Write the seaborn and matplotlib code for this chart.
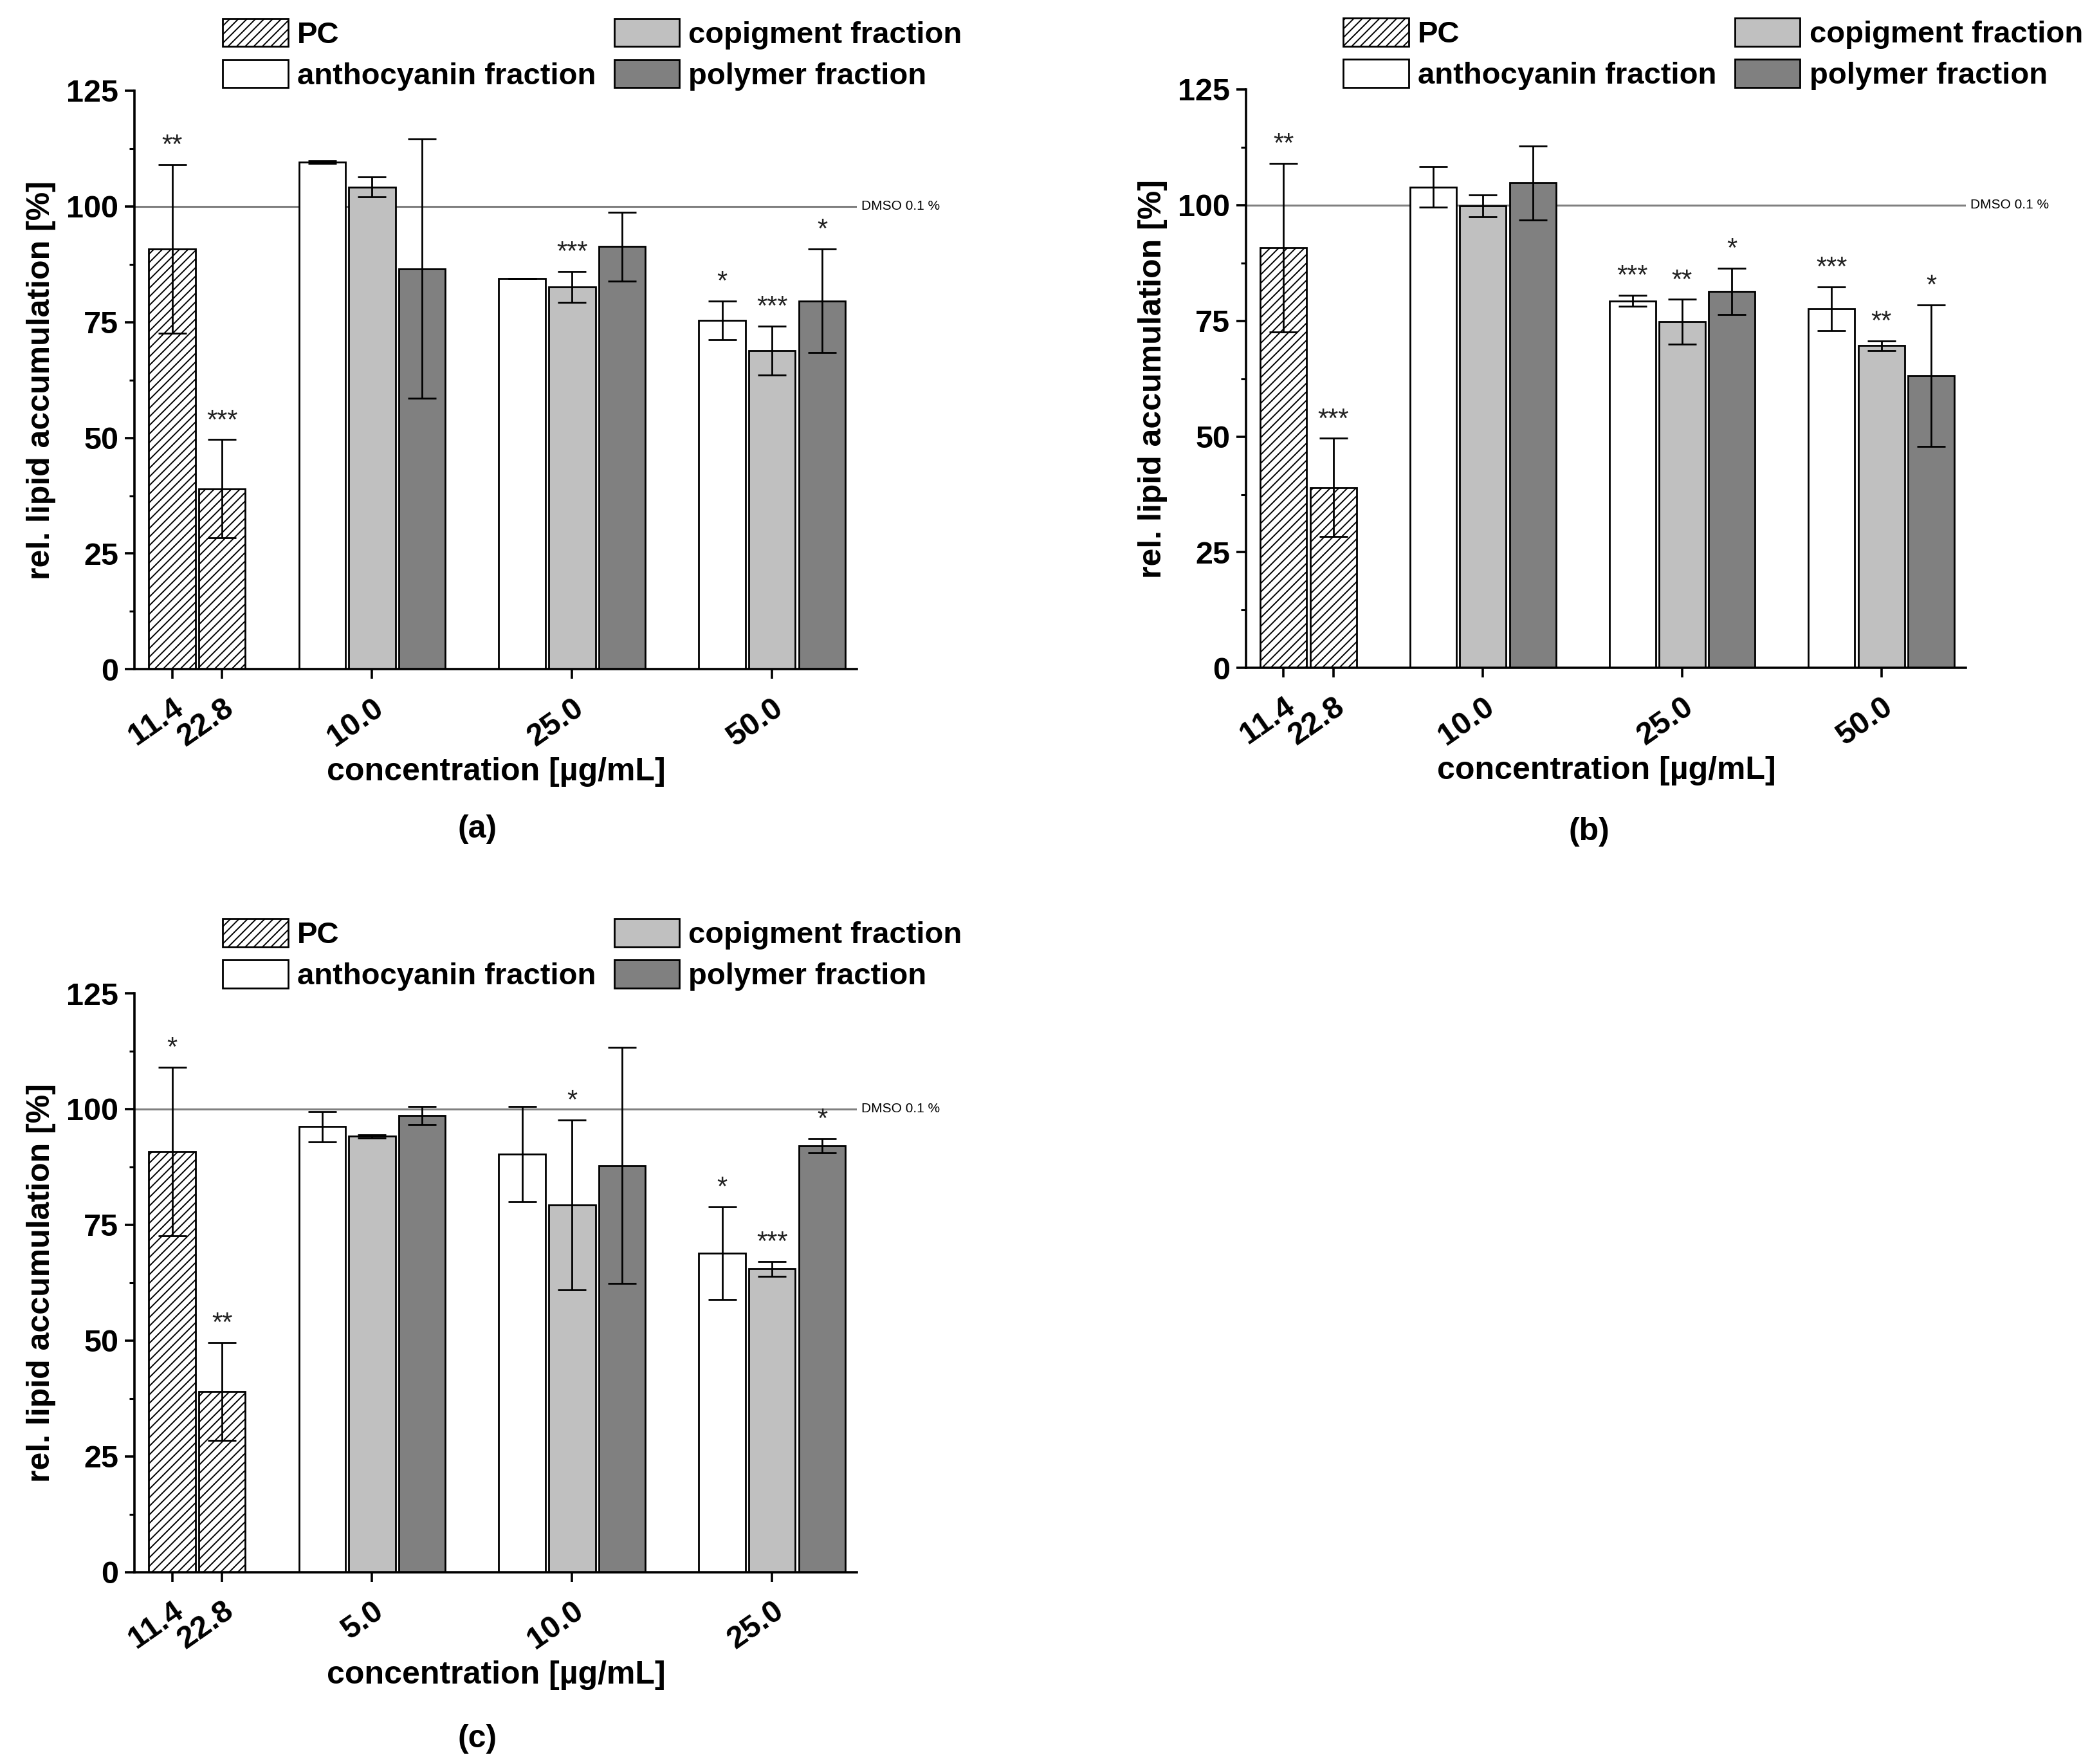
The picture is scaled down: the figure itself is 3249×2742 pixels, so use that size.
import numpy as np
import pandas as pd
import matplotlib
matplotlib.use("Agg")
import matplotlib.pyplot as plt
import matplotlib.transforms as mtransforms
from matplotlib.patches import Patch
from matplotlib.ticker import MultipleLocator
import seaborn as sns

# -------------------------
# DATA
# -------------------------
series = ["PC", "anthocyanin fraction", "copigment fraction", "polymer fraction"]

pc_labels = ["11.4", "22.8"]
pc_mean = [90.8, 39.0]
pc_err = [18.2, 10.6]
pc_stars_a = ["**", "***"]
pc_stars_b = ["**", "***"]
pc_stars_c = ["*", "**"]

# panel (a)
conc_a = ["10.0", "25.0", "50.0"]
anth_a = [109.6, 84.4, 75.4]
anth_err_a = [0.3, 0.0, 4.2]
anth_stars_a = ["", "", "*"]
cop_a = [104.2, 82.6, 68.8]
cop_err_a = [2.1, 3.3, 5.3]
cop_stars_a = ["", "***", "***"]
poly_a = [86.5, 91.3, 79.6]
poly_err_a = [28.0, 7.4, 11.2]
poly_stars_a = ["", "", "*"]

# panel (b)
conc_b = ["10.0", "25.0", "50.0"]
anth_b = [103.9, 79.3, 77.6]
anth_err_b = [4.4, 1.2, 4.7]
anth_stars_b = ["", "***", "***"]
cop_b = [99.8, 74.8, 69.6]
cop_err_b = [2.4, 4.8, 1.1]
cop_stars_b = ["", "**", "**"]
poly_b = [104.8, 81.4, 63.1]
poly_err_b = [8.0, 5.0, 15.3]
poly_stars_b = ["", "*", "*"]

# panel (c)
conc_c = ["5.0", "10.0", "25.0"]
anth_c = [96.2, 90.3, 68.9]
anth_err_c = [3.3, 10.3, 10.0]
anth_stars_c = ["", "", "*"]
cop_c = [94.1, 79.3, 65.5]
cop_err_c = [0.4, 18.4, 1.6]
cop_stars_c = ["", "*", "***"]
poly_c = [98.6, 87.8, 92.1]
poly_err_c = [2.0, 25.5, 1.5]
poly_stars_c = ["", "", "*"]

palette = {"PC": "white", "anthocyanin fraction": "white",
           "copigment fraction": "#c0c0c0", "polymer fraction": "#808080"}

# -------------------------
# STYLE
# -------------------------
sns.set_style("ticks")
plt.rcParams["font.family"] = ["Liberation Sans", "DejaVu Sans"]
plt.rcParams["font.weight"] = "bold"
plt.rcParams["axes.labelweight"] = "bold"
plt.rcParams["hatch.linewidth"] = 0.7
plt.rcParams["axes.linewidth"] = 1.3
for key in ["text.color", "axes.labelcolor", "xtick.color", "ytick.color",
            "axes.edgecolor"]:
    plt.rcParams[key] = "black"

fig = plt.figure(figsize=(16.245, 13.71), dpi=200)


def draw_panel(rect, conc, anth, anth_err, anth_st, cop, cop_err, cop_st,
               poly, poly_err, poly_st, pc_st, caption, leg_anchor, cap_xy):
    ax = fig.add_axes(rect)

    pos_pc = [0, 1]
    centers = [4, 8, 12]
    rows = []
    for p, m, e, s in zip(pos_pc, pc_mean, pc_err, pc_st):
        rows.append(("PC", p, m, e, s))
    for name, vals, errs, st, off in [
            ("anthocyanin fraction", anth, anth_err, anth_st, -1),
            ("copigment fraction", cop, cop_err, cop_st, 0),
            ("polymer fraction", poly, poly_err, poly_st, 1)]:
        for c, m, e, s in zip(centers, vals, errs, st):
            rows.append((name, c + off, m, e, s))
    df = pd.DataFrame(rows, columns=["series", "pos", "value", "err", "stars"])

    ax.axhline(100, color="#808080", lw=1.1, zorder=0.5)
    sns.barplot(data=df, x="pos", y="value", hue="series", hue_order=series,
                palette=palette, native_scale=True, dodge=False, width=0.93,
                edgecolor="black", linewidth=1.0, errorbar=None, legend=False,
                ax=ax)
    for patch in ax.patches:
        x0 = patch.get_x() + patch.get_width() / 2
        if x0 < 2:
            patch.set_hatch("/////")

    ax.errorbar(df["pos"], df["value"], yerr=df["err"], fmt="none",
                ecolor="black", elinewidth=1.0, capsize=8, capthick=1.0,
                zorder=3)
    for _, r in df.iterrows():
        if r["stars"]:
            ax.text(r["pos"], r["value"] + r["err"] + 4, r["stars"],
                    ha="center", va="center", fontsize=15,
                    fontweight="normal", color="#222222")

    trans = mtransforms.blended_transform_factory(ax.transAxes, ax.transData)
    ax.text(1.006, 100, "DMSO 0.1 %", transform=trans, ha="left",
            va="center", fontsize=7.5, fontweight="normal", clip_on=False)

    ax.set_xlim(-0.75, 13.7)
    ax.set_ylim(0, 125)
    ax.set_yticks([0, 25, 50, 75, 100, 125])
    ax.yaxis.set_minor_locator(MultipleLocator(12.5))
    ax.set_xticks([0, 1] + centers)
    ax.set_xticklabels(pc_labels + conc, rotation=35, ha="right",
                       rotation_mode="anchor")
    ax.tick_params(axis="both", which="major", labelsize=17.5, length=5.5,
                   width=1.3)
    ax.tick_params(axis="x", which="major", pad=8)
    ax.tick_params(axis="y", which="minor", length=3, width=1.1)
    ax.set_xlabel("concentration [µg/mL]", fontsize=18, labelpad=3)
    ax.set_ylabel("rel. lipid accumulation [%]", fontsize=18, labelpad=6)
    sns.despine(ax=ax)

    handles = [Patch(facecolor=palette[s], edgecolor="black", linewidth=1.0,
                     hatch="/////" if s == "PC" else None) for s in series]
    ax.legend(handles=handles, labels=series, ncol=2, loc="upper left",
              bbox_to_anchor=leg_anchor, frameon=False, fontsize=17,
              handlelength=2.15, handleheight=1.05, handletextpad=0.3,
              columnspacing=0.6, labelspacing=0.34, borderpad=0,
              borderaxespad=0)

    ax.text(cap_xy[0], cap_xy[1], caption, transform=ax.transAxes,
            ha="center", va="center", fontsize=18)
    return ax


draw_panel([0.0644, 0.6206, 0.3457, 0.3280], conc_a, anth_a, anth_err_a,
           anth_stars_a, cop_a, cop_err_a, cop_stars_a, poly_a, poly_err_a,
           poly_stars_a, pc_stars_a, "(a)", (0.122, 1.125), (0.474, -0.276))
draw_panel([0.5963, 0.6213, 0.3444, 0.3281], conc_b, anth_b, anth_err_b,
           anth_stars_b, cop_b, cop_err_b, cop_stars_b, poly_b, poly_err_b,
           poly_stars_b, pc_stars_b, "(b)", (0.135, 1.123), (0.476, -0.283))
draw_panel([0.0644, 0.1088, 0.3457, 0.3281], conc_c, anth_c, anth_err_c,
           anth_stars_c, cop_c, cop_err_c, cop_stars_c, poly_c, poly_err_c,
           poly_stars_c, pc_stars_c, "(c)", (0.122, 1.129), (0.474, -0.288))

fig.savefig("out.png", dpi=200)
